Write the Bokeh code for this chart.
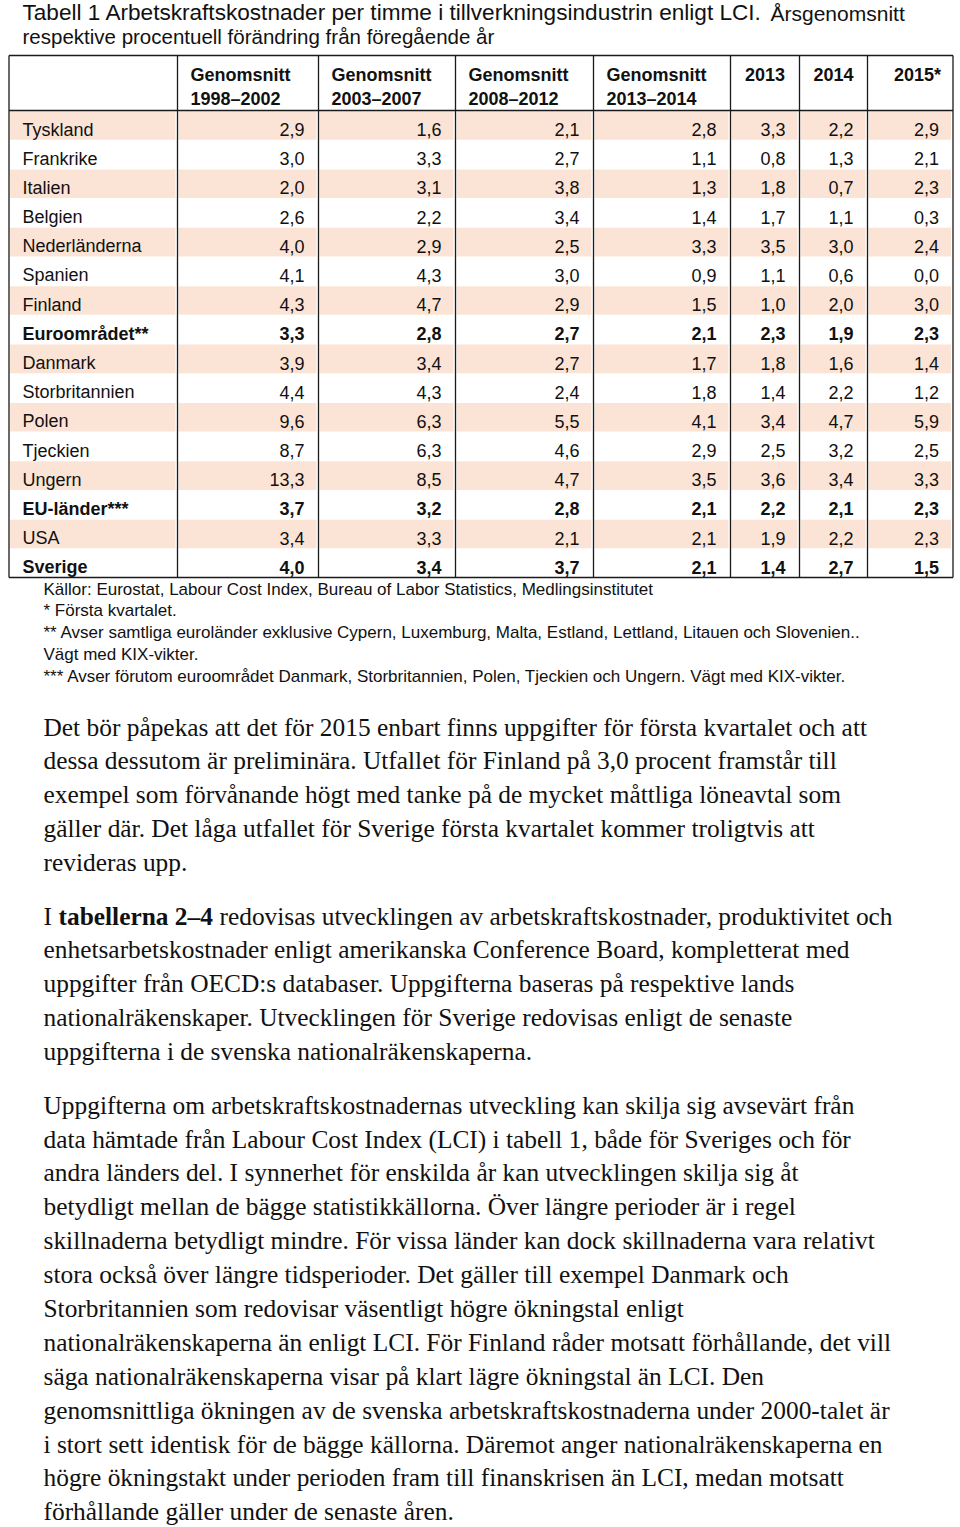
from bokeh.plotting import figure
from bokeh.models import Range1d
from bokeh.core.properties import value
from bokeh.embed import file_html
from bokeh.resources import INLINE

# ---------------- data ----------------
countries = ["Tyskland", "Frankrike", "Italien", "Belgien", "Nederländerna", "Spanien",
             "Finland", "Euroområdet**", "Danmark", "Storbritannien", "Polen", "Tjeckien",
             "Ungern", "EU-länder***", "USA", "Sverige"]
bold_rows = ["Euroområdet**", "EU-länder***", "Sverige"]
avg_1998_2002 = [2.9, 3.0, 2.0, 2.6, 4.0, 4.1, 4.3, 3.3, 3.9, 4.4, 9.6, 8.7, 13.3, 3.7, 3.4, 4.0]
avg_2003_2007 = [1.6, 3.3, 3.1, 2.2, 2.9, 4.3, 4.7, 2.8, 3.4, 4.3, 6.3, 6.3, 8.5, 3.2, 3.3, 3.4]
avg_2008_2012 = [2.1, 2.7, 3.8, 3.4, 2.5, 3.0, 2.9, 2.7, 2.7, 2.4, 5.5, 4.6, 4.7, 2.8, 2.1, 3.7]
avg_2013_2014 = [2.8, 1.1, 1.3, 1.4, 3.3, 0.9, 1.5, 2.1, 1.7, 1.8, 4.1, 2.9, 3.5, 2.1, 2.1, 2.1]
y2013 = [3.3, 0.8, 1.8, 1.7, 3.5, 1.1, 1.0, 2.3, 1.8, 1.4, 3.4, 2.5, 3.6, 2.2, 1.9, 1.4]
y2014 = [2.2, 1.3, 0.7, 1.1, 3.0, 0.6, 2.0, 1.9, 1.6, 2.2, 4.7, 3.2, 3.4, 2.1, 2.2, 2.7]
y2015 = [2.9, 2.1, 2.3, 0.3, 2.4, 0.0, 3.0, 2.3, 1.4, 1.2, 5.9, 2.5, 3.3, 2.3, 2.3, 1.5]
series = [avg_1998_2002, avg_2003_2007, avg_2008_2012, avg_2013_2014, y2013, y2014, y2015]
header_line1 = ["Genomsnitt", "Genomsnitt", "Genomsnitt", "Genomsnitt", "2013", "2014", "2015*"]
header_line2 = ["1998–2002", "2003–2007", "2008–2012", "2013–2014", "", "", ""]

title_a = "Tabell 1 Arbetskraftskostnader per timme i tillverkningsindustrin enligt LCI."
title_b = "Årsgenomsnitt"
title_c = "respektive procentuell förändring från föregående år"

footnotes = [
    "Källor: Eurostat, Labour Cost Index, Bureau of Labor Statistics, Medlingsinstitutet",
    "* Första kvartalet.",
    "** Avser samtliga euroländer exklusive Cypern, Luxemburg, Malta, Estland, Lettland, Litauen och Slovenien..",
    "Vägt med KIX-vikter.",
    "*** Avser förutom euroområdet Danmark, Storbritannien, Polen, Tjeckien och Ungern. Vägt med KIX-vikter.",
]

para1 = [
    "Det bör påpekas att det för 2015 enbart finns uppgifter för första kvartalet och att",
    "dessa dessutom är preliminära. Utfallet för Finland på 3,0 procent framstår till",
    "exempel som förvånande högt med tanke på de mycket måttliga löneavtal som",
    "gäller där. Det låga utfallet för Sverige första kvartalet kommer troligtvis att",
    "revideras upp.",
]
para2_first = ["I", "tabellerna 2–4", "redovisas utvecklingen av arbetskraftskostnader, produktivitet och"]
para2 = [
    "enhetsarbetskostnader enligt amerikanska Conference Board, kompletterat med",
    "uppgifter från OECD:s databaser. Uppgifterna baseras på respektive lands",
    "nationalräkenskaper. Utvecklingen för Sverige redovisas enligt de senaste",
    "uppgifterna i de svenska nationalräkenskaperna.",
]
para3 = [
    "Uppgifterna om arbetskraftskostnadernas utveckling kan skilja sig avsevärt från",
    "data hämtade från Labour Cost Index (LCI) i tabell 1, både för Sveriges och för",
    "andra länders del. I synnerhet för enskilda år kan utvecklingen skilja sig åt",
    "betydligt mellan de bägge statistikkällorna. Över längre perioder är i regel",
    "skillnaderna betydligt mindre. För vissa länder kan dock skillnaderna vara relativt",
    "stora också över längre tidsperioder. Det gäller till exempel Danmark och",
    "Storbritannien som redovisar väsentligt högre ökningstal enligt",
    "nationalräkenskaperna än enligt LCI. För Finland råder motsatt förhållande, det vill",
    "säga nationalräkenskaperna visar på klart lägre ökningstal än LCI. Den",
    "genomsnittliga ökningen av de svenska arbetskraftskostnaderna under 2000-talet är",
    "i stort sett identisk för de bägge källorna. Däremot anger nationalräkenskaperna en",
    "högre ökningstakt under perioden fram till finanskrisen än LCI, medan motsatt",
    "förhållande gäller under de senaste åren.",
]

# ---------------- layout (page pixel coordinates) ----------------
SANS = "Liberation Sans"
SERIF = "Liberation Serif"
TXT = "#111111"
col_edges = [8.5, 177, 318, 455, 593, 730, 799, 867, 952.5]
tbl_top, head_bot = 55, 110
row_h = (577 - head_bot) / len(countries)
stripe = "#FBE4D5"
W, H = 960, 1527

p = figure(width=W, height=H, x_range=Range1d(0, W), y_range=Range1d(H, 0),
           output_backend="svg", toolbar_location=None, min_border=0,
           x_axis_type=None, y_axis_type=None)
p.grid.visible = False
p.outline_line_color = None
p.background_fill_color = "white"

# striped rows
sl, sr, st, sb = [], [], [], []
for i in range(len(countries)):
    if i % 2 == 0:
        top = head_bot + i * row_h
        for c in range(len(col_edges) - 1):
            sl.append(col_edges[c] + 1)
            sr.append(col_edges[c + 1] - 2)
            st.append(top + 0.5)
            sb.append(top + row_h)
p.quad(left=sl, right=sr, top=st, bottom=sb, fill_color=stripe, line_color=None)

# borders
tbl_bot = head_bot + len(countries) * row_h
x0s = [col_edges[0], col_edges[0], col_edges[0]] + col_edges
x1s = [col_edges[-1], col_edges[-1], col_edges[-1]] + col_edges
y0s = [tbl_top, head_bot, tbl_bot] + [tbl_top] * len(col_edges)
y1s = [tbl_top, head_bot, tbl_bot] + [tbl_bot] * len(col_edges)
p.segment(x0=x0s, y0=y0s, x1=x1s, y1=y1s, line_color="#1a1a1a", line_width=1.3)

# header
hx, hy, ht, ha = [], [], [], []
for c in range(7):
    l, r = col_edges[c + 1], col_edges[c + 2]
    if c < 4:
        hx += [l + 13, l + 13]; hy += [74, 98]
        ht += [header_line1[c], header_line2[c]]; ha += ["left", "left"]
    elif c < 6:
        hx.append((l + r) / 2); hy.append(74); ht.append(header_line1[c]); ha.append("center")
    else:
        hx.append(r - 12); hy.append(74); ht.append(header_line1[c]); ha.append("right")
p.text(x=hx, y=hy, text=ht, text_align=ha, text_baseline="middle",
       text_font=value(SANS), text_font_style="bold", text_font_size="18px", text_color=TXT)

# body cells
def fmt(v):
    return f"{v:.1f}".replace(".", ",")

for style, sel in (("normal", lambda n: n not in bold_rows), ("bold", lambda n: n in bold_rows)):
    tx, ty, tt, ta = [], [], [], []
    for i, name in enumerate(countries):
        if not sel(name):
            continue
        yc = head_bot + i * row_h + 19
        tx.append(22); ty.append(yc); tt.append(name); ta.append("left")
        for c, s in enumerate(series):
            tx.append(col_edges[c + 2] - 14); ty.append(yc); tt.append(fmt(s[i])); ta.append("right")
    p.text(x=tx, y=ty, text=tt, text_align=ta, text_baseline="middle",
           text_font=value(SANS), text_font_style=style, text_font_size="18px", text_color=TXT)

# title
p.text(x=[22], y=[12], text=[title_a], text_baseline="middle",
       text_font=value(SANS), text_font_size="22.6px", text_color=TXT)
p.text(x=[770], y=[13], text=[title_b], text_baseline="middle",
       text_font=value(SANS), text_font_size="21px", text_color=TXT)
p.text(x=[22], y=[36], text=[title_c], text_baseline="middle",
       text_font=value(SANS), text_font_size="20.5px", text_color=TXT)

# footnotes
fy = [589, 610, 632, 654, 676]
p.text(x=[43] * len(footnotes), y=fy, text=footnotes, text_baseline="middle",
       text_font=value(SANS), text_font_size="17px", text_color=TXT)

# paragraphs
FS = "25.4px"
p1y = [726, 759, 793, 827, 861]
p2y = [915, 948, 982, 1016, 1050]
p3y = [1104, 1138, 1171, 1205, 1239, 1273, 1307, 1341, 1375, 1409, 1443, 1476, 1510]
p.text(x=[43] * len(para1), y=p1y, text=para1, text_baseline="middle",
       text_font=value(SERIF), text_font_size=FS, text_color=TXT)
p.text(x=[43, 219], y=[p2y[0]] * 2, text=[para2_first[0], para2_first[2]], text_baseline="middle",
       text_font=value(SERIF), text_font_size=FS, text_color=TXT)
p.text(x=[58], y=[p2y[0]], text=[para2_first[1]], text_baseline="middle",
       text_font=value(SERIF), text_font_style="bold", text_font_size=FS, text_color=TXT)
p.text(x=[43] * len(para2), y=p2y[1:], text=para2, text_baseline="middle",
       text_font=value(SERIF), text_font_size=FS, text_color=TXT)
p.text(x=[43] * len(para3), y=p3y, text=para3, text_baseline="middle",
       text_font=value(SERIF), text_font_size=FS, text_color=TXT)

open("out.html", "w").write(file_html(p, INLINE))
